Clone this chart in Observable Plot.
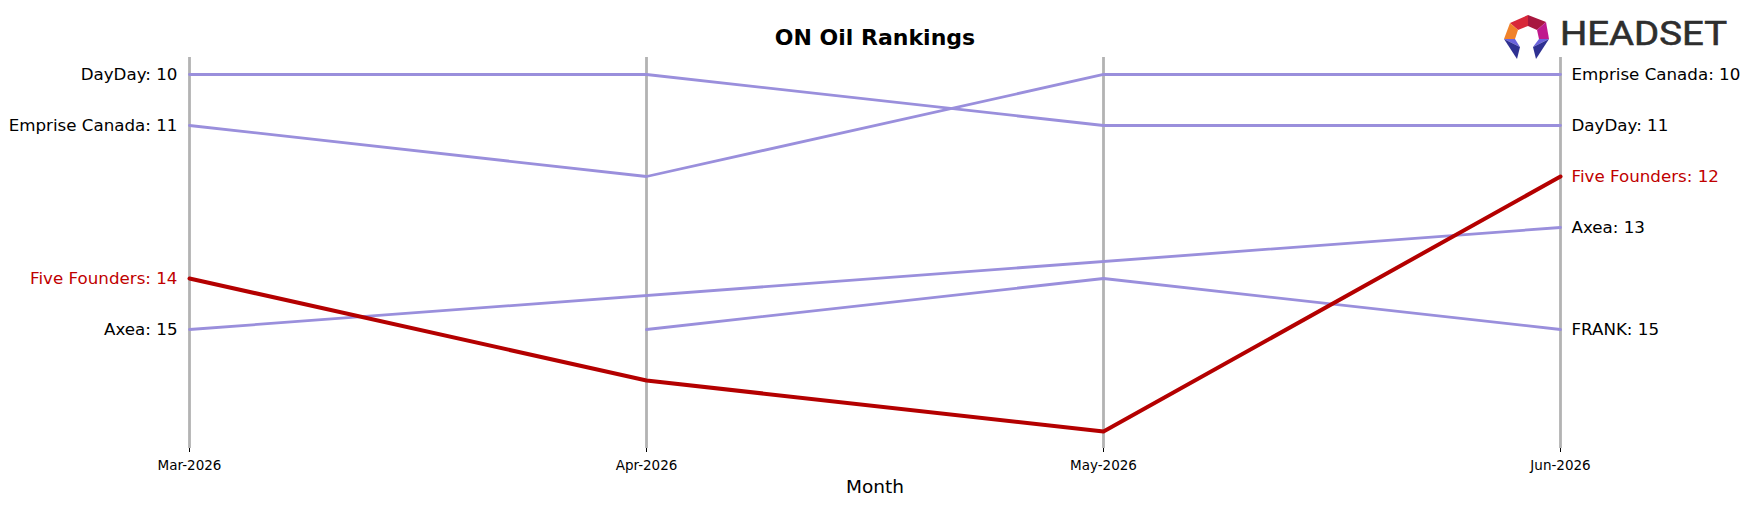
<!DOCTYPE html>
<html>
<head>
<meta charset="utf-8">
<script src="https://cdn.jsdelivr.net/npm/d3@7"></script>
<script src="https://cdn.jsdelivr.net/npm/@observablehq/plot@0.6"></script>
<style>
  html, body { margin: 0; padding: 0; background: #fff; }
  #wrap { position: relative; width: 1748px; height: 507px; }
  #logo { position: absolute; left: 1500px; top: 0px; }
</style>
</head>
<body>
<div id="wrap">
  <div id="chart"></div>
  <svg id="logo" width="248" height="66" viewBox="0 0 248 66">
    <g transform="translate(4,15)">
      <polygon points="6,8 24,0 24,11 14,15" fill="#d8283a"/>
      <polygon points="24,0 42,7 33,15 24,11" fill="#a8173f"/>
      <polygon points="6,8 14,15 11,24 0,24" fill="#f0822a"/>
      <polygon points="42,7 45,24 35,24 33,15" fill="#c0198d"/>
      <polygon points="0,24 11,24 16,32" fill="#6a62dc"/>
      <polygon points="0,24 16,32 13,44" fill="#2f3192"/>
      <polygon points="35,24 45,24 29,32" fill="#6a62dc"/>
      <polygon points="45,24 29,32 32,44" fill="#2f3192"/>
    </g>
    <text x="60" y="45" font-family="Liberation Sans Narrow, Roboto, sans-serif" font-size="34" fill="#2e2e2e" stroke="#2e2e2e" stroke-width="0.6" textLength="167" lengthAdjust="spacingAndGlyphs">HEADSET</text>
  </svg>
</div>
<script>
const months = ["Mar-2026", "Apr-2026", "May-2026", "Jun-2026"];
const brands = ["DayDay", "Emprise Canada", "Five Founders", "Axea", "FRANK"];
const dayday = [10, 10, 11, 11];
const emprise = [11, 12, 10, 10];
const fiveFounders = [14, 16, 17, 12];
const axea = [15, null, null, 13];
const frank = [null, 15, 14, 15];
const highlight = "Five Founders";
const title = "ON Oil Rankings";
const xLabel = "Month";

const series = [dayday, emprise, fiveFounders, axea, frank];
const rows = [];
brands.forEach((b, i) => {
  series[i].forEach((r, j) => {
    if (r != null) rows.push({brand: b, month: months[j], rank: r, idx: j});
  });
});
const others = rows.filter(d => d.brand !== highlight);
const hi = rows.filter(d => d.brand === highlight);
const firstRows = rows.filter(d => d.idx === 0);
const lastRows = rows.filter(d => d.idx === months.length - 1);

const chart = Plot.plot({
  width: 1748,
  height: 507,
  marginTop: 57,
  marginBottom: 59,
  marginLeft: 189,
  marginRight: 188,
  style: {fontFamily: "DejaVu Sans, sans-serif", background: "#fff", color: "#000"},
  x: {type: "point", domain: months, padding: 0, label: null},
  y: {domain: [9.667, 17.333], reverse: true, axis: null},
  marks: [
    Plot.ruleX(months, {stroke: "#b3b3b3", strokeWidth: 2.8}),
    Plot.axisX({tickSize: 4, tickPadding: 8, fontSize: 13.5, label: null}),
    Plot.line(others, {x: "month", y: "rank", z: "brand", stroke: "#9a8fdc", strokeWidth: 2.8}),
    Plot.line(hi, {x: "month", y: "rank", z: "brand", stroke: "#b40000", strokeWidth: 4}),
    Plot.text(firstRows.filter(d => d.brand !== highlight), {x: "month", y: "rank", text: d => `${d.brand}: ${d.rank}`, textAnchor: "end", dx: -12, fontSize: 16.7, fill: "#000"}),
    Plot.text(firstRows.filter(d => d.brand === highlight), {x: "month", y: "rank", text: d => `${d.brand}: ${d.rank}`, textAnchor: "end", dx: -12, fontSize: 16.7, fill: "#c00000"}),
    Plot.text(lastRows.filter(d => d.brand !== highlight), {x: "month", y: "rank", text: d => `${d.brand}: ${d.rank}`, textAnchor: "start", dx: 11, fontSize: 16.7, fill: "#000"}),
    Plot.text(lastRows.filter(d => d.brand === highlight), {x: "month", y: "rank", text: d => `${d.brand}: ${d.rank}`, textAnchor: "start", dx: 11, fontSize: 16.7, fill: "#c00000"}),
    Plot.text([title], {frameAnchor: "top", lineAnchor: "middle", text: d => d, dy: -20, fontSize: 22, fontWeight: "bold", fill: "#000"}),
    Plot.text([xLabel], {frameAnchor: "bottom", lineAnchor: "middle", text: d => d, dy: 39, fontSize: 18.5, fill: "#000"})
  ]
});
document.getElementById("chart").appendChild(chart);
</script>
</body>
</html>
